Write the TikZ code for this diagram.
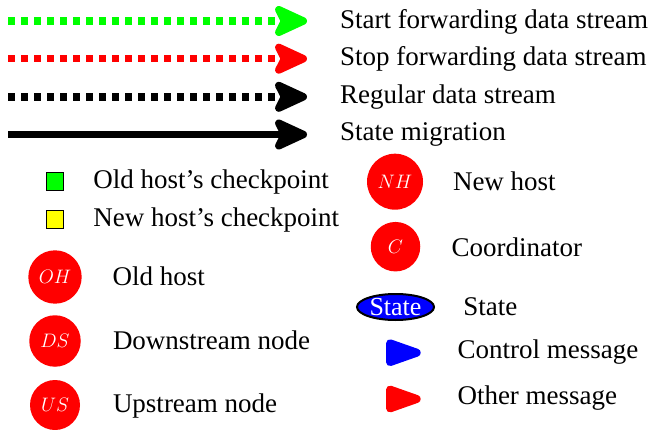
\RequirePackage{fix-cm}
\documentclass[tikz,border=0pt]{standalone}
\usepackage{fontspec}
\setmainfont{Liberation Serif}
\usetikzlibrary{arrows.meta,shapes.geometric}

\definecolor{fwdgreen}{RGB}{0,255,0}
\definecolor{stopred}{RGB}{255,0,0}
\definecolor{hostred}{RGB}{255,0,0}
\definecolor{ctrlblue}{RGB}{0,0,255}
\definecolor{ckyellow}{RGB}{255,255,0}

\begin{document}
\begin{tikzpicture}[x=1pt,y=-1pt,
  every node/.style={inner sep=0pt, outer sep=0pt},
  lbl/.style={anchor=base west, font=\fontsize{27}{32}\selectfont},
  stream/.style={line width=7.5pt, -{Stealth[length=41pt,width=37pt,inset=9pt,round]}},
  dotstream/.style={stream, dash pattern=on 7pt off 6pt},
  host/.style={circle, fill=hostred, text=white, minimum size=#1,
               font=\fontsize{19.5}{22}\selectfont},
  ckpt/.style={draw=black, line width=1.2pt, minimum width=17pt, minimum height=18pt},
  msg/.style={fill=#1, draw=#1, line width=8pt, line join=round},
]
\useasboundingbox (0,0) rectangle (650,430);

% stream legend
\coordinate (gs) at (8,21);    \coordinate (ge) at (307,21);
\coordinate (rs) at (8,58.7);  \coordinate (re) at (307,58.7);
\coordinate (ks) at (8,96.8);  \coordinate (ke) at (307,96.8);
\coordinate (ms) at (8,134.5); \coordinate (me) at (307,134.5);
\draw[dotstream, color=fwdgreen] (gs) -- (ge);
\draw[dotstream, color=stopred] (rs) -- (re);
\draw[dotstream, color=black] (ks) -- (ke);
\draw[stream, color=black] (ms) -- (me);
\node[lbl] (tstart) at (340,28.5)  {Start forwarding data stream};
\node[lbl] (tstop)  at (340,66)    {Stop forwarding data stream};
\node[lbl] (treg)   at (340,103.5) {Regular data stream};
\node[lbl] (tmig)   at (340,140.5) {State migration};

% checkpoints
\node[ckpt, fill=fwdgreen] (ckold) at (54.7,181.8) {};
\node[ckpt, fill=ckyellow] (cknew) at (54.7,219.5) {};
\node[lbl] (tckold) at (93.3,188.3) {Old host's checkpoint};
\node[lbl] (tcknew) at (93.3,226.7) {New host's checkpoint};

% hosts and nodes
\node[host=53.4pt] (oh) at (55,277)   {$OH$};
\node[host=51.5pt] (ds) at (55,341)   {$DS$};
\node[host=50pt]   (us) at (55,405)   {$US$};
\node[host=56pt]   (nh) at (395,181.7) {$NH$};
\node[host=49.5pt] (co) at (395.5,246.7) {$C$};
\node[lbl] (toh) at (112.7,285.5) {Old host};
\node[lbl] (tds) at (113,349.5)   {Downstream node};
\node[lbl] (tus) at (113,412.5)   {Upstream node};
\node[lbl] (tnh) at (453,190.7)   {New host};
\node[lbl] (tco) at (451.7,256.7) {Coordinator};

% state
\node[ellipse, draw=black, line width=2pt, fill=ctrlblue, text=white,
      minimum width=77pt, minimum height=26pt,
      font=\fontsize{26}{30}\selectfont] (st) at (395.5,307) {State};
\node[lbl] (tst) at (463.3,315) {State};

% messages
\path[msg=ctrlblue] (390,343.3) -- (416.7,352.7) -- (390,362.1) -- cycle;
\path[msg=stopred]  (390,389.6) -- (416.7,399)   -- (390,408.4) -- cycle;
\node[lbl] (tctl) at (457.5,358.5) {Control message};
\node[lbl] (toth) at (457.5,404.5) {Other message};
\end{tikzpicture}
\end{document}
